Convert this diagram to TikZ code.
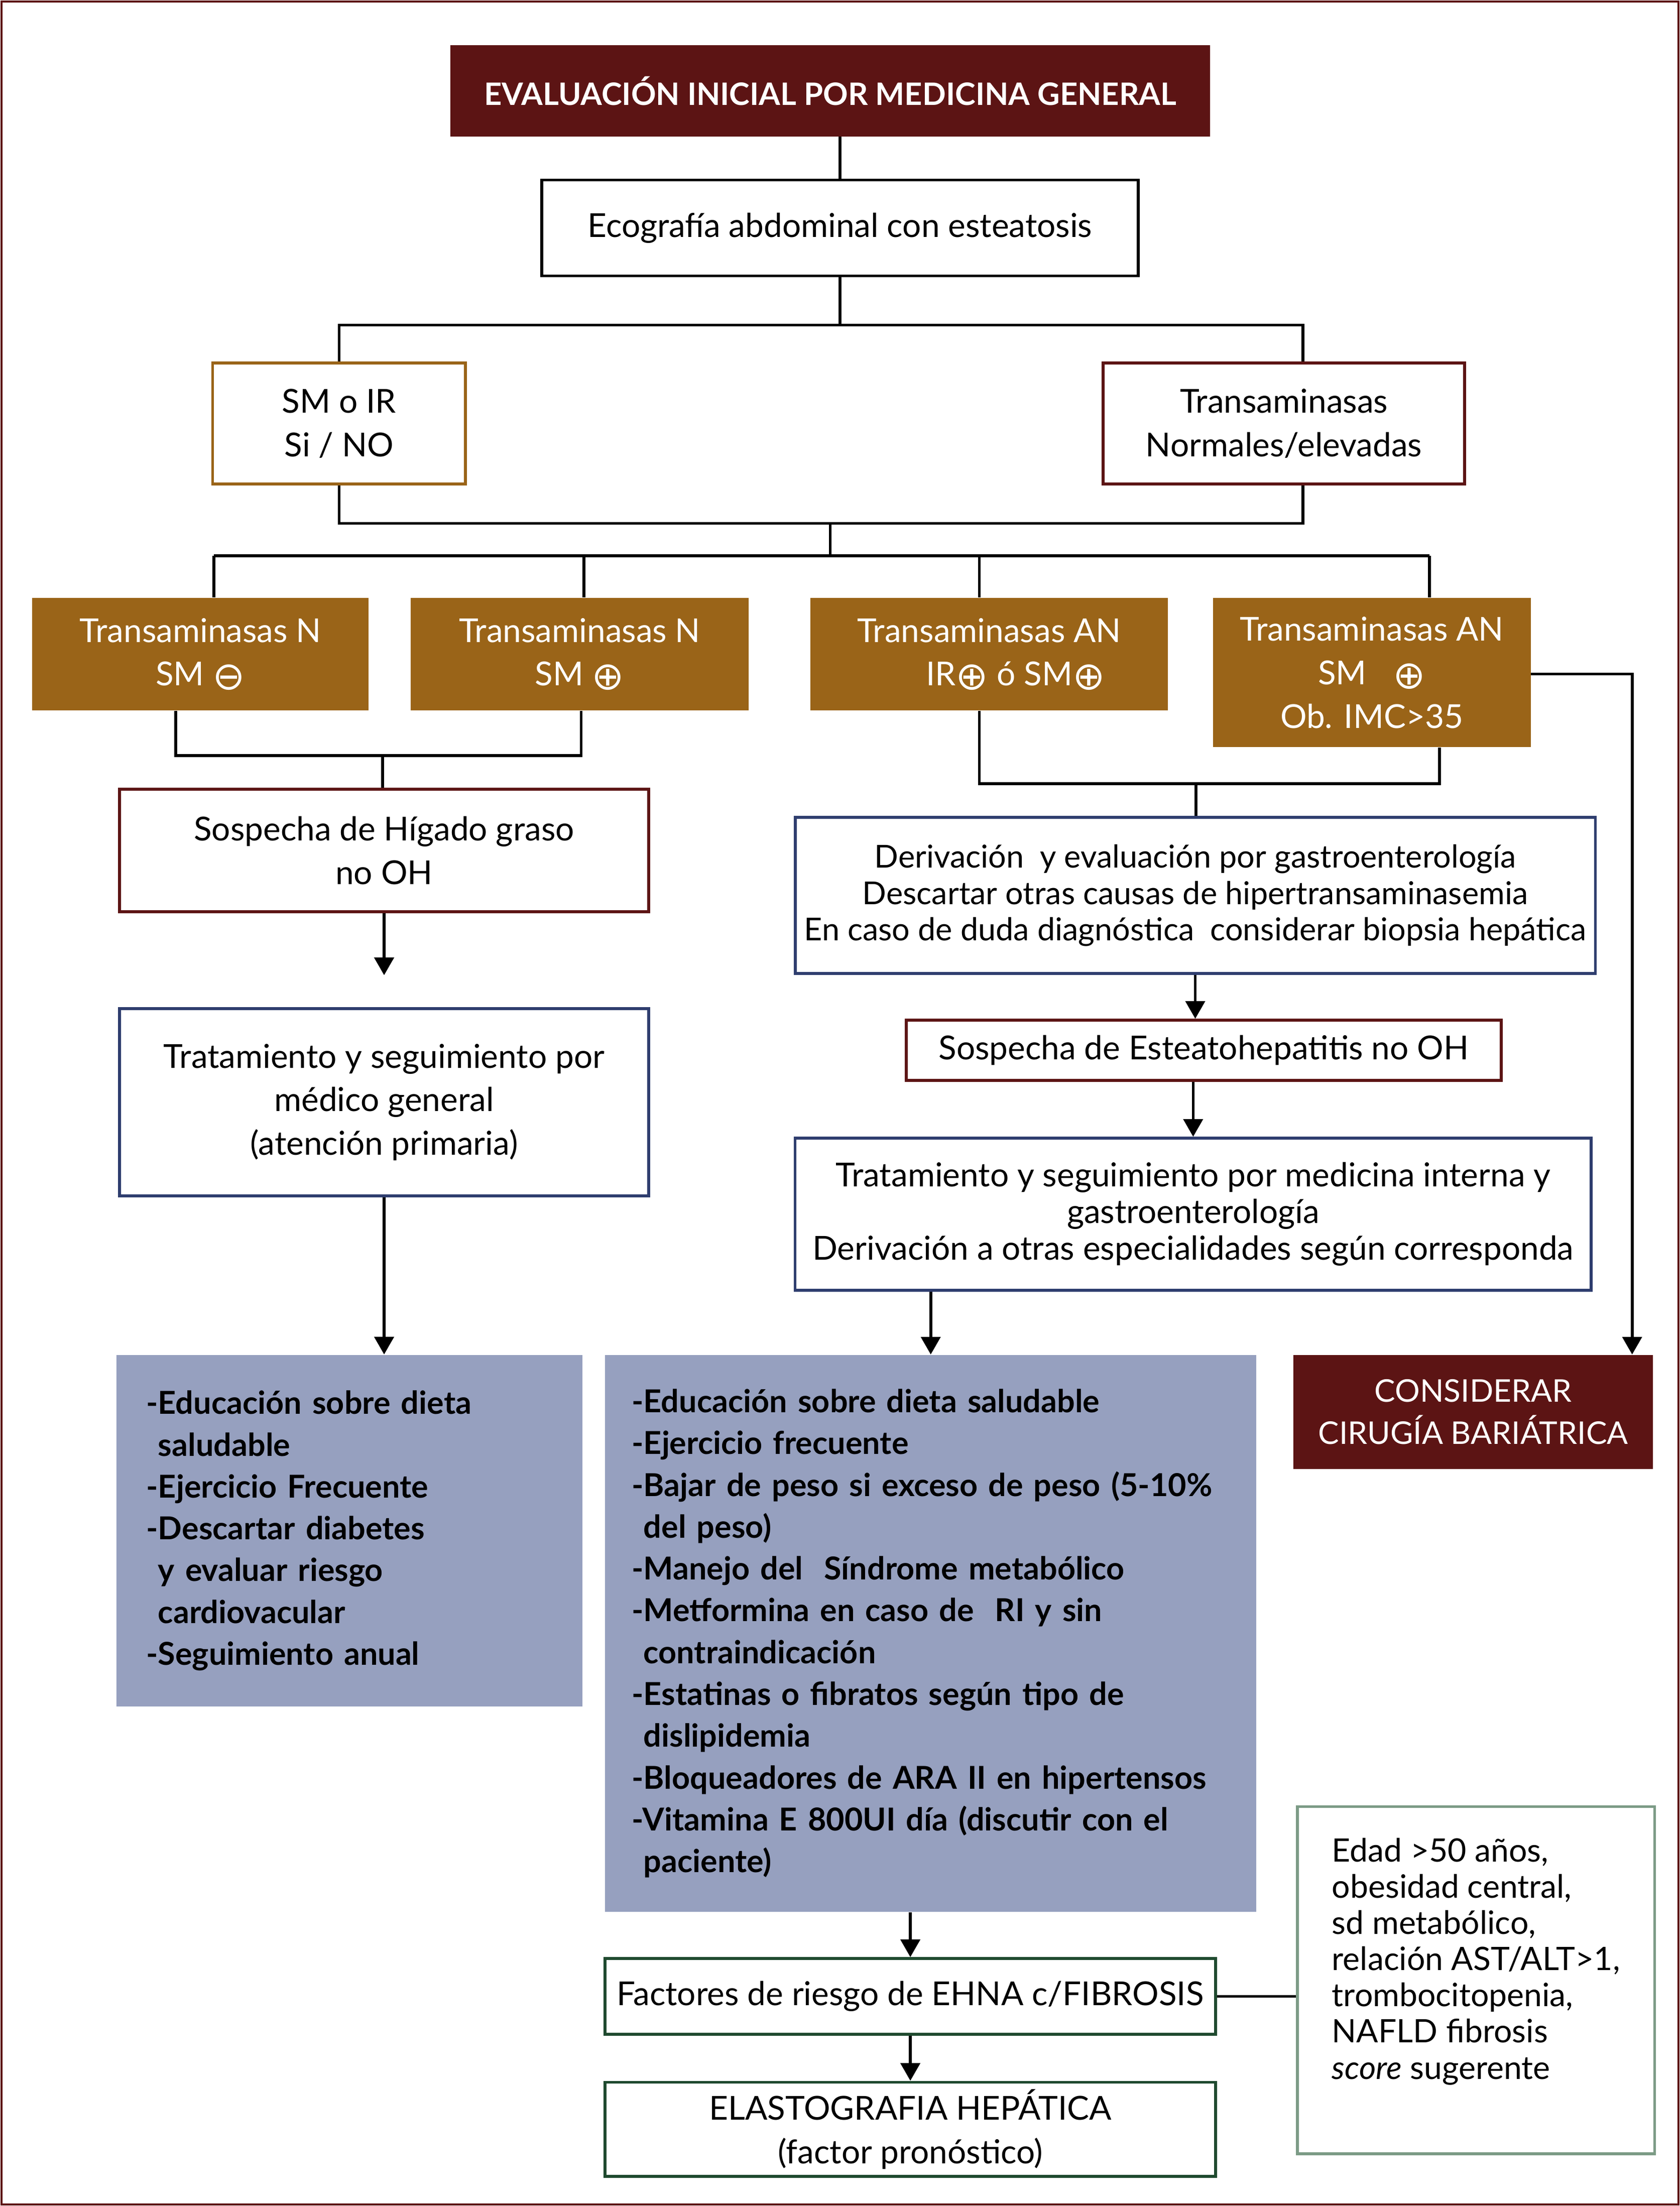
\documentclass[tikz,border=0pt]{standalone}
\usepackage{fontspec}
\setmainfont{Lato}
\newfontfamily\symfont{DejaVu Sans}
\usetikzlibrary{arrows.meta, positioning}
\definecolor{vino}{HTML}{5C1414}
\definecolor{ocre}{HTML}{9A6418}
\definecolor{marino}{HTML}{2E3D6E}
\definecolor{lila}{HTML}{96A0BF}
\definecolor{bosque}{HTML}{1F4A2F}
\definecolor{salvia}{HTML}{7C9B86}
\newcommand{\cmas}{\raisebox{-0.12em}{\symfont\fontsize{22}{22}\selectfont ⊕}}
\newcommand{\cmenos}{\raisebox{-0.12em}{\symfont\fontsize{22}{22}\selectfont ⊖}}
\tikzset{
    caja/.style={rectangle, draw=#1, line width=1.6pt, fill=white, align=center, inner sep=2pt, font=\fontsize{18.7}{24.7}\selectfont},
    caja/.default=black,
    cajaoc/.style={rectangle, fill=ocre, text=white, align=center, inner sep=2pt, font=\fontsize{18.7}{24.7}\selectfont},
    cajavino/.style={rectangle, fill=vino, text=white, align=center, inner sep=2pt, font=\fontsize{17.7}{24}\selectfont},
    lista/.style={rectangle, fill=lila, align=left, font=\bfseries\fontsize{17.9}{23.7}\selectfont},
    linea/.style={line width=1.6pt},
    flecha/.style={linea, -{Triangle[width=11pt,length=10pt]}},
}
\begin{document}
\begin{tikzpicture}[x=0.028023cm, y=-0.028023cm]
    \useasboundingbox (0,0) rectangle (1194,1568);
    \draw[vino, line width=1.2pt] (1,1) rectangle (1193,1567);
    % parte superior
    \node [cajavino, minimum width=15.13cm, minimum height=1.82cm, font=\bfseries\fontsize{17.5}{24}\selectfont] (eval) at (590,64.5) {EVALUACIÓN INICIAL POR MEDICINA GENERAL};
    \node [caja, minimum width=11.88cm, minimum height=1.91cm] (eco) at (597,162) {Ecografía abdominal con esteatosis};
    \node [caja=ocre, minimum width=5.04cm, minimum height=2.41cm] (smir) at (241,301) {SM o IR\\Si / NO};
    \node [caja=vino, minimum width=7.20cm, minimum height=2.41cm] (transa) at (912.5,301) {Transaminasas\\Normales/elevadas};
    % grupos de transaminasas
    \node [cajaoc, minimum width=6.70cm, minimum height=2.24cm] (tnA) at (142.5,465) {Transaminasas N\\SM \cmenos};
    \node [cajaoc, minimum width=6.73cm, minimum height=2.24cm] (tnB) at (412,465) {Transaminasas N\\SM \cmas};
    \node [cajaoc, minimum width=7.12cm, minimum height=2.24cm] (tanC) at (703,465) {Transaminasas AN\\\hspace*{1.6em}IR\cmas{} ó SM\cmas};
    \node [cajaoc, minimum width=6.33cm, minimum height=2.97cm] (tanD) at (975,478) {Transaminasas AN\\SM\hspace{0.8em}\cmas\\Ob. IMC>35};
    % rama izquierda
    \node [caja=vino, minimum width=10.54cm, minimum height=2.44cm] (sosp) at (273,604.5) {Sospecha de Hígado graso\\no OH};
    \node [caja=marino, minimum width=10.54cm, minimum height=3.73cm] (tratA) at (273,783.5) {Tratamiento y seguimiento por\\médico general\\(atención primaria)};
    \node [lista, text width=8.10cm, inner xsep=0.59cm, minimum height=7.01cm] (medA) at (248.5,1088) {-Educación sobre dieta\\\phantom{-}saludable\\-Ejercicio Frecuente\\-Descartar diabetes\\\phantom{-}y evaluar riesgo\\\phantom{-}cardiovacular\\-Seguimiento anual};
    % rama derecha
    \node [caja=marino, minimum width=15.94cm, minimum height=3.11cm, font=\fontsize{17.9}{20.7}\selectfont] (deriv) at (849.5,636.5) {Derivación\ \ y evaluación por gastroenterología\\Descartar otras causas de hipertransaminasemia\\En caso de duda diagnóstica\ \ considerar biopsia hepática};
    \node [caja=vino, minimum width=11.85cm, minimum height=1.20cm] (esteato) at (855.5,746.5) {Sospecha de Esteatohepatitis no OH};
    \node [caja=marino, minimum width=15.86cm, minimum height=3.03cm, font=\fontsize{18.7}{20.7}\selectfont] (tratB) at (848,863) {Tratamiento y seguimiento por medicina interna y\\gastroenterología\\Derivación a otras especialidades según corresponda};
    \node [lista, text width=11.91cm, inner xsep=0.53cm, minimum height=11.10cm] (medB) at (661.5,1161) {-Educación sobre dieta saludable\\-Ejercicio frecuente\\-Bajar de peso si exceso de peso (5-10\%\\\phantom{-}del peso)\\-Manejo del\ \ Síndrome metabólico\\-Metformina en caso de\ \ RI y sin\\\phantom{-}contraindicación\\-Estatinas o fibratos según tipo de\\\phantom{-}dislipidemia\\-Bloqueadores de ARA II en hipertensos\\-Vitamina E 800UI día (discutir con el\\\phantom{-}paciente)};
    \node [cajavino, minimum width=7.17cm, minimum height=2.27cm] (cirugia) at (1047,1003.5) {CONSIDERAR\\CIRUGÍA BARIÁTRICA};
    % parte inferior
    \node [caja=bosque, minimum width=12.16cm, minimum height=1.51cm] (factores) at (647,1419) {Factores de riesgo de EHNA c/FIBROSIS};
    \node [caja=salvia, minimum width=7.12cm, minimum height=6.92cm, align=left, font=\fontsize{18.3}{20.5}\selectfont] (riesgo) at (1049,1407.5) {Edad >50 años,\\obesidad central,\\sd metabólico,\\relación AST/ALT>1,\\trombocitopenia,\\NAFLD fibrosis\\\textit{score} sugerente\\[4pt]};
    \node [caja=bosque, minimum width=12.16cm, minimum height=1.88cm] (elasto) at (647,1513.5) {ELASTOGRAFIA HEPÁTICA\\(factor pronóstico)};
    % puntos de union
    \coordinate (j1) at (597,231);
    \coordinate (j1r) at (926,231);
    \coordinate (j2) at (590,372);
    \coordinate (j2r) at (926,372);
    \coordinate (j3) at (590,395);
    \coordinate (k1) at (152,395);
    \coordinate (k2) at (415,395);
    \coordinate (k3) at (696,395);
    \coordinate (k4) at (1016,395);
    \coordinate (m1) at (125,537);
    \coordinate (m2) at (413,537);
    \coordinate (m) at (272,537);
    \coordinate (n1) at (696,557);
    \coordinate (n2) at (1023,557);
    \coordinate (n) at (850,557);
    \coordinate (q) at (1160,479);
    % conectores
    \draw[linea] (eco.north) -- (eco.north |- eval.south);
    \draw[linea] (eco.south) -- (j1);
    \draw[linea] (smir.north) |- (j1r) -- (j1r |- transa.north);
    \draw[linea] (smir.south) -- (smir.south |- j2) -- (j2r) -- (j2r |- transa.south);
    \draw[linea] (j2) -- (j3);
    \draw[linea] (k1) -- (k4);
    \foreach \k in {k1,k2,k3,k4}
        \draw[linea] (\k) -- (\k |- tnA.north);
    \draw[linea] (m1 |- tnA.south) -- (m1) -- (m2) -- (m2 |- tnB.south);
    \draw[linea] (m) -- (m |- sosp.north);
    \draw[flecha, shorten >=0.64cm] (sosp.south) -- (tratA.north);
    \draw[flecha] (tratA.south) -- (tratA.south |- medA.north);
    \draw[linea] (n1 |- tanC.south) -- (n1) -- (n2) -- (n2 |- tanD.south);
    \draw[linea] (n) -- (n |- deriv.north);
    \draw[flecha] (deriv.south) -- (deriv.south |- esteato.north);
    \draw[flecha] (tratB.north |- esteato.south) -- (tratB.north);
    \draw[flecha] (medB.north |- tratB.south) -- (medB.north);
    \draw[flecha] (tanD.east |- q) -- (q) -- (q |- cirugia.north);
    \draw[flecha] (factores.north |- medB.south) -- (factores.north);
    \draw[linea] (factores.east) -- (factores.east -| riesgo.west);
    \draw[flecha] (factores.south) -- (elasto.north);
\end{tikzpicture}
\end{document}
